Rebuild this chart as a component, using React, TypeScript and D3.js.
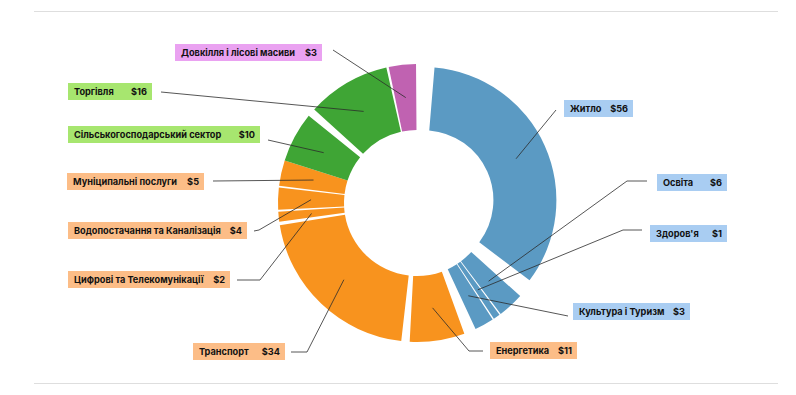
import React from "react";
import * as d3 from "d3";

// ---- data ----
const categories = [
  "Житло",
  "Освіта",
  "Здоров'я",
  "Культура і Туризм",
  "Енергетика",
  "Транспорт",
  "Цифрові та Телекомунікації",
  "Водопостачання та Каналізація",
  "Муніципальні послуги",
  "Сільськогосподарський сектор",
  "Торгівля",
  "Довкілля і лісові масиви",
];
const amountLabels = ["$56", "$6", "$1", "$3", "$11", "$34", "$2", "$4", "$5", "$10", "$16", "$3"];
// arc sizes
const arcValues = [56, 5, 1.3, 3.7, 10.5, 34, 1.9, 4.2, 4.9, 9.6, 16, 5.2];
const groups = ["blue", "blue", "blue", "blue", "orange", "orange", "orange", "orange", "orange", "green", "green", "pink"];

// ---- style / layout ----
const sliceColor: Record<string, string> = { blue: "#5b9ac3", orange: "#f8931e", green: "#3fa535", pink: "#c062b1" };
const labelColor: Record<string, string> = { blue: "#a9cdf2", orange: "#fcbd87", green: "#a7e66f", pink: "#eaa2f1" };
const gapsDeg = [5, 0.6, 0.6, 5, 3.5, 1.5, 0.8, 0.8, 0, 3.5, 1, 5.2];
const startDeg = 4.8;
const explode = [7, 0, 0, 0, 0, 0, 0, 0, 0, 0, 0, 0];
const cx = 417, cy = 203;
const rIn = 73, rOut = 139;
const rInJ = 70, rOutJ = 133;

type L = { x: number; y: number; w: number; start: [number, number]; elbow?: [number, number] };
const labelLayout: L[] = [
  { x: 564, y: 100, w: 69, start: [556, 110] },
  { x: 657, y: 174, w: 70, start: [647, 181], elbow: [627, 181] },
  { x: 650, y: 225, w: 77, start: [642, 230], elbow: [623, 230] },
  { x: 573, y: 303, w: 117, start: [568, 316] },
  { x: 490, y: 342, w: 87, start: [483, 351], elbow: [469, 351] },
  { x: 193, y: 343, w: 92, start: [291, 352], elbow: [307, 352] },
  { x: 68, y: 271, w: 162, start: [237, 280], elbow: [260, 280] },
  { x: 68, y: 222, w: 179, start: [254, 231], elbow: [259, 230] },
  { x: 67, y: 173, w: 137, start: [213, 181] },
  { x: 68, y: 126, w: 192, start: [268, 140] },
  { x: 68, y: 83, w: 84, start: [161, 92] },
  { x: 175, y: 44, w: 147, start: [333, 50] },
];

const rad = (d: number) => (d * Math.PI) / 180;

export default function App() {
  const totalGap = d3.sum(gapsDeg);
  const pie = d3
    .pie<number>()
    .sort(null)
    .value((d) => d)
    .startAngle(0)
    .endAngle(rad(360 - totalGap));
  const arcsRaw = pie(arcValues);
  let cum = rad(startDeg);
  const slices = arcsRaw.map((a, i) => {
    const s = a.startAngle + cum;
    const e = a.endAngle + cum;
    cum += rad(gapsDeg[i]);
    return { i, startAngle: s, endAngle: e };
  });

  const arcGen = d3.arc<any>();

  return (
    <svg width={796} height={395} style={{ position: "absolute", left: 0, top: 0 }} fontFamily="Inter, 'Noto Sans', sans-serif">
      <rect width={796} height={395} fill="#fff" />
      <line x1={34} x2={778} y1={11.5} y2={11.5} stroke="#dedede" />
      <line x1={34} x2={778} y1={383.5} y2={383.5} stroke="#dedede" />
      <g>
        {slices.map((s) => {
          const i = s.i;
          const inner = i === 0 ? rInJ : rIn;
          const outer = i === 0 ? rOutJ : rOut;
          const mid = (s.startAngle + s.endAngle) / 2;
          const dx = Math.sin(mid) * explode[i];
          const dy = -Math.cos(mid) * explode[i];
          const d = arcGen({ innerRadius: inner, outerRadius: outer, startAngle: s.startAngle, endAngle: s.endAngle });
          return (
            <path key={i} d={d || ""} transform={`translate(${cx + dx},${cy + dy})`} fill={sliceColor[groups[i]]} />
          );
        })}
      </g>
      <g>
        {slices.map((s) => {
          const i = s.i;
          const inner = i === 0 ? rInJ : rIn;
          const outer = i === 0 ? rOutJ : rOut;
          const mid = (s.startAngle + s.endAngle) / 2;
          const dx = Math.sin(mid) * explode[i];
          const dy = -Math.cos(mid) * explode[i];
          const c = arcGen.centroid({ innerRadius: inner, outerRadius: outer, startAngle: s.startAngle, endAngle: s.endAngle });
          const end: [number, number] = [cx + dx + c[0], cy + dy + c[1]];
          const L = labelLayout[i];
          const pts = [L.start, ...(L.elbow ? [L.elbow] : []), end];
          const line = d3.line()(pts as [number, number][]);
          return <path key={i} d={line || ""} fill="none" stroke="#2b2b2b" strokeWidth={0.8} />;
        })}
      </g>
      <g>
        {labelLayout.map((L, i) => (
          <g key={i}>
            <rect x={L.x} y={L.y} width={L.w} height={17} fill={labelColor[groups[i]]} />
            <text x={L.x + 6} y={L.y + 11.8} fontSize={9.2} fontWeight={700} fill="#111">
              {categories[i]}
            </text>
            <text x={L.x + L.w - 5} y={L.y + 11.8} fontSize={9.2} fontWeight={700} fill="#111" textAnchor="end">
              {amountLabels[i]}
            </text>
          </g>
        ))}
      </g>
    </svg>
  );
}
